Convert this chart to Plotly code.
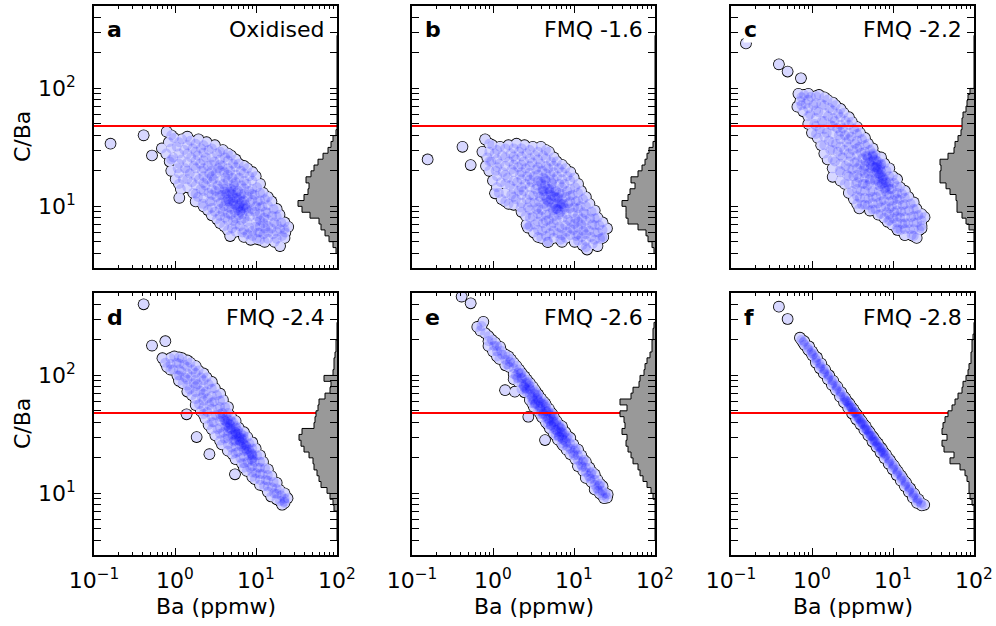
import plotly.graph_objects as go

panel_letters = ["a", "b", "c", "d", "e", "f"]
panel_titles = ["Oxidised", "FMQ -1.6", "FMQ -2.2", "FMQ -2.4", "FMQ -2.6", "FMQ -2.8"]
red_line_cba = 48

# (Ba ppmw, C/Ba)
pts_a = [(0.16,34),(0.41,40),(0.52,27),(0.69,31),(1.13,11.8),
(0.79,43),(0.84,35),(0.78,28),(0.86,24),
(0.97,38),(1.05,32),(0.95,26),(1.08,21),(1.02,17),
(1.22,37),(1.3,30),(1.2,25),(1.33,21),(1.25,17),(1.18,14),
(1.55,36),(1.65,31),(1.58,26),(1.7,22),(1.52,19),(1.62,16),(1.68,13),
(1.95,37),(2.1,31),(1.9,27),(2.05,23),(2.15,20),(1.98,17),(2.08,14),(1.92,12),(2.2,10.5),
(2.45,35),(2.6,30),(2.4,26),(2.55,22),(2.65,19),(2.5,17),(2.38,15),(2.6,13),(2.7,11),(2.55,9.3),
(3.1,33),(3.3,28),(3.05,24),(3.4,21),(3.2,19),(3.0,17),(3.35,15),(3.15,13.5),(3.25,12),(3.45,10.5),(3.1,9),(3.3,7.8),
(3.9,30),(4.15,26),(3.85,22),(4.05,19.5),(4.2,17.5),(3.95,15.5),(4.1,14),(3.8,12.5),(4.25,11),(4.0,10),(3.9,9),(4.15,8),(4.05,6.8),
(4.9,27),(5.2,23),(4.8,20),(5.1,17.5),(5.3,15.5),(4.95,14),(5.15,12.5),(4.85,11.5),(5.25,10.5),(5.0,9.5),(4.9,8.5),(5.2,7.5),(5.05,6.5),(4.8,5.6),
(6.1,23),(6.5,20),(6.2,17.5),(6.6,15),(6.0,13.5),(6.4,12),(6.7,11),(6.2,10),(6.5,9.2),(6.1,8.4),(6.6,7.6),(6.3,6.8),(6.8,6.0),
(7.8,21),(8.3,18),(7.6,15.5),(8.2,13.5),(7.9,12),(8.5,10.8),(7.7,9.8),(8.1,9),(8.4,8.2),(7.8,7.4),(8.2,6.6),(7.9,5.8),(8.6,5.2),
(9.9,18),(10.3,14.5),(9.6,12.5),(10.5,11),(10.0,10),(9.7,9),(10.4,8.2),(10.1,7.4),(9.8,6.7),(10.6,6),(10.2,5.3),
(12.2,13),(12.9,11.5),(12.0,10),(13.2,9),(12.6,8),(12.3,7.2),(13.0,6.5),(12.4,5.8),(12.8,5.0),
(15.5,11),(16.5,9.5),(15.8,8.3),(16.8,7.3),(15.4,6.5),(16.2,5.8),(17.0,5.0),
(19.5,8.5),(20.5,7.3),(19.8,6.4),(21,5.6),(19.8,4.6),
(25,6.7),(23,6.0),
(3.6,12.5),(4.5,11.5),(5.6,10.2),(4.4,14.5),(5.7,13),(6.9,9.6),(3.7,10.8),(4.6,9.8),(5.5,8.9),(7.1,11.2),
(4.3,12.8),(5.8,11.8),(6.8,8.6),(3.5,14),(7.4,10.3),(4.7,13.3),(5.4,14.8),(6.0,9.3),(7.2,7.9),(8.9,9.4),
(4.2,12),(5.2,11),(6.3,10.5),(5.0,12.8),(6.1,11.4),(7.6,9.5),(4.8,10.4),(5.9,9.7),(6.6,12.6),(4.1,13.3),
(5.5,11.7),(7.0,10.1),(6.4,9.0),(5.3,13.6),(4.6,11.0)]
# further points of the same cloud, grouped by Ba: (Ba, [C/Ba values])
cols_a = [(0.9,[40,31,25,20]),(1.12,[35,28,23,19,15.5]),(1.42,[39,33,28,23.5,20,17,14.5]),
(1.8,[34,29,24.5,21,18,15,12.8,11]),(2.25,[33,28.5,24.5,21,18,15.8,13.5,11.8,10]),
(2.85,[31,26,22.5,20,18,16,14,12.5,11,9.7,8.4]),(3.6,[29,25,22.5,20,16.5,9.5,8.3,7.2]),
(4.5,[28,24.5,21,18.5,16.5,8.7,7.6,6.3]),(5.6,[25,21.5,18.5,16,7.9,7.0,6.1]),
(7.1,[22,19,16.5,14.2,12.8,6.3,5.5]),(9.0,[19.5,16.5,14,12.7,11.3,6.2,5.6]),
(11.2,[15.5,13,11.2,9.8,8.6,7.6,6.8,6.0,5.2]),(14,[12,10.2,8.8,7.7,6.8,6.0,5.3]),
(18,[9.5,8.2,7.0,6.1,5.3]),(22.5,[7.3,6.4,5.4])]

pts_b = [(0.156,25),(0.42,32),(0.53,22.4),(1.06,12.9),(2.7,6.6),(4.7,5.0),
(0.8,37),(0.74,29),(0.85,26),(0.82,22),
(0.98,33),(1.05,28),(0.95,24),(1.08,20),(1.0,16.5),
(1.22,32),(1.3,27),(1.2,23),(1.32,19.5),(1.25,16),(1.18,13),(1.28,11.5),
(1.55,33),(1.65,28),(1.58,24),(1.7,20.5),(1.52,17.5),(1.62,15),(1.68,12.5),(1.56,10.5),
(1.95,34),(2.1,29),(1.9,25),(2.05,21.5),(2.15,18.5),(1.98,16),(2.08,13.5),(1.92,11.5),(2.2,9.8),
(2.45,33),(2.6,28),(2.4,24),(2.55,21),(2.65,18),(2.5,15.5),(2.38,13.5),(2.6,11.5),(2.7,9.8),(2.55,8.3),(2.6,7.0),
(3.1,32),(3.3,27),(3.05,23.5),(3.4,20.5),(3.2,18),(3.0,16),(3.35,14),(3.15,12.3),(3.25,10.8),(3.45,9.4),(3.1,8.2),(3.3,7.0),(3.2,6.0),
(3.9,32),(4.15,27),(3.85,23),(4.05,20),(4.2,17.5),(3.95,15.5),(4.1,13.5),(3.8,12),(4.25,10.5),(4.0,9.3),(3.9,8.2),(4.15,7.2),(4.05,6.2),(3.95,5.4),
(4.9,29),(5.2,24),(4.8,21),(5.1,18.5),(5.3,16),(4.95,14),(5.15,12.5),(4.85,11),(5.25,9.8),(5.0,8.7),(4.9,7.7),(5.2,6.8),(5.05,5.9),(4.8,5.0),
(6.1,24),(6.5,21),(6.2,18),(6.6,15.5),(6.0,13.5),(6.4,12),(6.7,10.6),(6.2,9.5),(6.5,8.5),(6.1,7.6),(6.6,6.7),(6.3,5.9),(6.8,5.2),
(7.8,21),(8.3,18),(7.6,15.5),(8.2,13.5),(7.9,12),(8.5,10.6),(7.7,9.5),(8.1,8.6),(8.4,7.7),(7.8,6.9),(8.2,6.1),(7.9,5.4),
(9.9,17.5),(10.3,14.5),(9.6,12.5),(10.5,11),(10.0,9.8),(9.7,8.8),(10.4,7.9),(10.1,7.1),(9.8,6.3),(10.6,5.6),(10.2,5.0),
(12.2,13.5),(12.9,11.5),(12.0,10),(13.2,8.9),(12.6,7.9),(12.3,7.0),(13.0,6.2),(12.4,5.5),(12.8,4.7),
(15.5,10.5),(16.5,9.0),(15.8,7.9),(16.8,7.0),(15.4,6.2),(16.2,5.5),(17.0,4.8),(14.5,4.3),
(19.5,8.0),(20.5,6.9),(19.8,6.0),(21,5.3),(19.5,4.6),
(25.5,6.5),(23,5.5),
(3.6,13),(4.5,12),(5.6,10.5),(4.4,15),(5.7,13.2),(6.9,10),(3.7,11),(4.6,10),(5.5,9.2),(7.1,11.5),
(4.3,13.5),(5.8,12),(6.8,8.9),(3.5,15),(7.4,10.5),(4.7,14),(5.4,15.5),(6.0,9.5),(7.2,8.0),(8.9,9.6),
(4.2,12.5),(5.2,11.5),(6.3,10.8),(5.0,13.3),(6.1,11.8),(7.6,9.8),(4.8,10.8),(5.9,10),(6.6,13),(4.1,14),
(5.5,12.2),(7.0,10.4),(6.4,9.3),(5.3,14.2),(4.6,11.4),(3.9,16.2),(4.4,17)]
cols_b = [(0.9,[34,29,24,20]),(1.12,[30,25,21.5,18,14.5]),(1.42,[31,26,22,18.5,15.5,13,11]),
(1.8,[31,26.5,22.5,19.5,16.5,14,12,10.3]),(2.25,[31,26.5,22.5,19.5,17,14.5,12.5,10.7,9.0]),
(2.85,[30,25.5,22,19.3,16.8,14.5,12.5,10.8,9.3,8.0,6.8]),(3.6,[29,25,21.5,18.5,16.5,9.8,8.6,7.4,6.3,5.5]),
(4.5,[30,25.5,22,19,16.5,8.5,7.5,6.5,5.6]),(5.6,[26,22,19.5,17,8.2,7.2,6.2,5.4]),
(7.1,[22.5,19.5,17,14.5,12.8,6.5,5.7,5.0]),(9.0,[19.5,16.5,14,12.3,11,7.4,6.5,5.7]),
(11.2,[15.5,13,11.2,9.6,8.4,7.4,6.6,5.8,5.1]),(14,[12,10,8.6,7.5,6.6,5.8,5.1,4.5]),
(18,[9.2,7.9,6.9,6.0,5.2]),(22.5,[7.3,6.3,5.4])]

pts_c = [(0.153,241),(0.39,160),(0.50,139),(0.73,122),
(0.68,90),(0.72,78),(0.66,70),
(0.8,88),(0.84,74),(0.78,64),
(0.97,85),(1.04,72),(0.95,60),(1.07,50),(1.0,42),
(1.22,88),(1.3,74),(1.2,63),(1.33,53),(1.25,45),(1.18,38),(1.3,33),
(1.55,80),(1.65,68),(1.58,58),(1.7,49),(1.52,42),(1.62,36),(1.68,30),(1.56,25),
(1.95,72),(2.1,61),(1.9,53),(2.05,46),(2.15,40),(1.98,34),(2.08,29),(1.92,24),(2.2,20),
(2.45,62),(2.6,53),(2.4,46),(2.55,40),(2.65,35),(2.5,30),(2.38,26),(2.6,22),(2.7,18.5),(2.55,15.5),
(3.1,52),(3.3,45),(3.05,39),(3.4,34),(3.2,30),(3.0,26.5),(3.35,23.5),(3.15,20.5),(3.25,18),(3.45,15.5),(3.1,13.5),(3.3,11.5),
(3.9,42),(4.15,37),(3.85,32),(4.05,28.5),(4.2,25.5),(3.95,22.5),(4.1,20),(3.8,17.5),(4.25,15.5),(4.0,13.5),(3.9,11.8),(4.15,10.3),
(4.9,34),(5.2,30),(4.8,26.5),(5.1,23.5),(5.3,21),(4.95,19),(5.15,17),(4.85,15),(5.25,13.2),(5.0,11.6),(4.9,10.2),(5.2,9.2),
(6.1,27),(6.5,24),(6.2,21.5),(6.6,19),(6.0,17),(6.4,15.2),(6.7,13.5),(6.2,12),(6.5,10.6),(6.1,9.4),(6.6,8.5),
(7.8,23),(8.3,20),(7.6,18),(8.2,16),(7.9,14.2),(8.5,12.6),(7.7,11.3),(8.1,10),(8.4,8.9),(7.8,8.0),
(9.9,18),(10.3,15.8),(9.6,14),(10.5,12.5),(10.0,11.2),(9.7,10),(10.4,8.9),(10.1,7.9),(9.8,7.0),
(12.2,14.5),(12.9,12.8),(12.0,11.4),(13.2,10.2),(12.6,9.0),(12.3,8.0),(13.0,7.1),(12.4,6.3),
(15.5,12),(16.5,10.5),(15.8,9.2),(16.8,8.1),(15.4,7.2),(16.2,6.4),(17.0,5.7),
(19.5,9.5),(20.5,8.4),(19.8,7.3),(21,6.3),(19.6,5.4),
(24.5,8.1),(22.5,6.8),
(1.8,17.8),(3.84,9.6),(8.6,7.4),(11.4,6.3),
(5.6,22),(6.8,18),(7.3,15.5),(5.8,25),(7.0,20.5),(6.0,16.5),(7.5,17.5),(5.4,19.5),(6.4,22.5),(7.9,16.8),
(5.7,28),(6.9,14.8),(4.6,24),(4.4,21),(8.8,15),(6.3,19.8),(7.2,23),(5.2,16),(8.1,13.5),(4.7,27),
(5.5,24),(6.5,20.5),(7.4,17),(6.0,21.5),(7.0,18.6),(5.3,22.5),(6.2,24.5),(7.7,15.8),(6.7,16.2),(5.9,19),
(4.9,25.5),(8.3,14.6),(6.9,21.6),(5.6,26.5),(7.2,19.4)]
cols_c = [(0.74,[84,72]),(0.9,[90,80,68,58,50]),(1.12,[86,75,65,56,48,41]),
(1.42,[84,72,62,53,45,39,33,28]),(1.8,[76,65,56,48,41,35,30,25,21]),
(2.25,[67,57,49,43,37,32,27,23,19.5,16.5]),(2.85,[57,49,42,37,32,28,24,21,18,15.5,13]),
(3.6,[47,41,36,31,27,24,21,18.5,16,14,12.2,10.5]),(4.5,[38,33,29,22,19,17.5,15.5,13.5,11.8,10.3]),
(5.6,[31,27,13.5,12,10.6,9.4]),(7.1,[26,22.5,12.5,11,9.8,8.6]),
(9.0,[21,18,16,14,12.4,11,9.6,8.5,7.6]),(11.2,[17,14.8,13,11.6,10.3,9.2,8.2,7.3,6.5]),
(14,[13.5,11.8,10.4,9.1,8.1,7.2,6.4,5.7]),(18,[10.8,9.5,8.3,7.3,6.4,5.6]),(22.5,[8.6,7.6,6.5])]

pts_d = [(0.41,401),(0.52,179),(0.76,195),(1.39,46.8),(1.85,30),(2.66,21.5),(5.5,14.5),
(0.7,140),(0.76,128),(0.8,118),
(0.98,145),(1.05,128),(0.95,112),(1.07,100),
(1.22,140),(1.3,123),(1.2,108),(1.33,96),(1.25,86),
(1.55,128),(1.65,112),(1.58,98),(1.7,86),(1.52,76),(1.62,68),
(1.95,110),(2.1,96),(1.9,84),(2.05,74),(2.15,65),(1.98,57),(2.08,50),
(2.45,96),(2.6,84),(2.4,73),(2.55,64),(2.65,56),(2.5,49),(2.38,43),(2.6,38),
(3.1,78),(3.3,68),(3.05,60),(3.4,52),(3.2,46),(3.0,40),(3.35,35),(3.15,31),
(3.9,62),(4.15,54),(3.85,48),(4.05,42),(4.2,37),(3.95,33),(4.1,29),(3.8,26),
(4.9,45),(5.2,40),(4.8,35),(5.1,31),(5.3,27.5),(4.95,24.5),(5.15,21.5),
(6.1,36),(6.5,32),(6.2,28),(6.6,25),(6.0,22.5),(6.4,20),(6.7,18),
(7.8,30),(8.3,26.5),(7.6,23.5),(8.2,21),(7.9,18.5),(8.5,16.5),(7.7,15.5),
(9.9,24),(10.3,21),(9.6,18.5),(10.5,16.5),(10.0,14.8),(9.7,13.2),
(12.2,18.5),(12.9,16.3),(12.0,14.5),(13.2,13),(12.6,11.5),
(15.5,14),(16.5,12.5),(15.8,11.2),(16.8,10),(15.4,9.4),
(19.5,10.7),(20.5,9.6),(19.8,8.6),(21,8.0),
(24.5,9.1),(22.5,8.5),
(4.4,40),(5.6,33),(6.9,27),(4.6,36),(5.8,30),(7.2,24),(3.7,44),(4.8,38),(6.0,34),(7.5,25.5),
(8.7,22),(5.4,28.5),(6.6,29.5),(4.3,45),(7.0,31),(8.8,19.5),(5.7,37),(4.5,31),(6.3,26),(9.2,20),
(4.2,41),(5.0,35),(6.2,30),(7.6,25),(4.7,39),(5.5,33.5),(6.8,28.5),(8.2,23.5),(3.9,44.5),(4.4,37.5),
(5.2,31.5),(6.4,27.5),(7.8,22.5),(9.0,21),(5.9,32),(4.9,41.5)]
cols_d = [(0.88,[140,125,112]),(1.12,[142,126,112,100,90]),(1.42,[134,118,104,92,82,73]),
(1.8,[120,105,92,81,72,63,56]),(2.25,[104,91,80,70,61,54,47]),(2.85,[88,77,67,59,52,45,40,35]),
(3.6,[70,61,54,47,41,36,32,28]),(4.5,[54,48,42,34,29,26,23]),(5.6,[41,36,31.5,28,25,22,19.5]),
(7.1,[33,29,26,23,20.5,18,16.5]),(9.0,[27,24,21.5,19,17,15,13.8]),(11.2,[21,18.5,16.5,14.6,13,11.8]),
(14,[16,14.3,12.8,11.4,10.3]),(18,[12.3,11,9.9,8.9]),(22.5,[10,9,8.3])]

pts_e = [(0.41,466),(0.53,409),(1.41,75),(1.86,72.8),(2.73,44.6),(4.39,28.3),
(0.64,258),(0.7,240),(0.76,285),(0.8,228),(0.72,262),
(0.97,200),(1.03,178),(1.0,160),(1.06,190),
(1.22,175),(1.3,150),(1.26,162),(1.2,138),
(1.55,145),(1.62,130),(1.58,118),(1.66,137),(1.5,124),
(1.95,120),(2.05,106),(2.0,95),(2.1,112),(1.92,100),(2.06,88),
(2.45,98),(2.55,86),(2.5,78),(2.62,92),(2.4,82),(2.6,72),
(3.1,80),(3.25,70),(3.15,62),(3.3,75),(3.05,66),(3.35,58),(3.2,54),
(3.9,64),(4.1,57),(4.0,50),(4.2,60),(3.85,54),(4.15,47),(4.05,44),
(4.9,52),(5.1,46),(5.0,41),(5.25,48),(4.85,43),(5.2,38),(5.05,35.5),
(6.1,41),(6.4,37),(6.3,33),(6.6,38),(6.05,34.5),(6.55,30.5),(6.35,28.5),
(7.8,33),(8.1,29.5),(8.0,27),(8.4,30.5),(7.7,28),(8.3,25),(8.1,23.5),
(9.8,26),(10.2,23),(10.0,21),(10.5,24),(9.7,22),(10.4,19.5),
(12.3,21),(12.8,18.5),(12.6,16.8),(13.2,19.2),(12.2,17.5),(13.0,15.5),
(15.5,16.5),(16.2,14.8),(15.9,13.3),(16.6,15.2),(15.3,14),(16.4,12.5),
(19.5,13),(20.4,11.6),(20,10.5),(21,12),(19.3,11),(20.8,10),
(24.5,10),(25.5,9.2),(23.5,9.1),(26,9.8),
(2.3,95),(2.8,82),(3.6,68),(4.5,54),(5.6,44),(7.1,35),(2.2,104),(2.9,75),(3.7,60),(4.6,49),
(5.7,39),(7.2,31),(3.4,72),(4.4,58),(5.4,47),(6.8,36),(2.7,88),(3.5,64),(4.8,50),(6.0,40),
(7.5,32),(3.9,58.5),(5.3,42.5),(6.7,33.5),
(2.4,80),(2.45,72),(3.0,64),(3.05,58),(3.8,52),(3.85,47),(4.7,42.5),(4.75,38.5),(5.9,34.5),(5.95,31),
(7.3,28.5),(7.35,25.5),(2.6,76),(3.3,57),(4.2,47.5),(5.2,37.5),(6.5,30)]
cols_e = [(0.88,[215,195,178]),(1.12,[178,160,145]),(1.42,[150,136,122]),(1.8,[128,115,103,93]),
(2.25,[105,94,85,76]),(2.85,[86,77,69,62]),(3.6,[69,62,56,50]),(4.5,[56,50,45,40]),
(5.6,[45,40.5,36.5,32.5]),(7.1,[37,33,29.5,26.5]),(9.0,[29.5,26.5,24,21.5]),(11.2,[23.5,21,19,17]),
(14,[18.5,16.5,15,13.5]),(18,[14.5,13,11.8,10.8]),(22.5,[11.5,10.5,9.6])]

pts_f = [(0.39,383),(0.50,301),
(0.71,209),(0.74,200),
(0.78,190),(0.81,182),(0.8,195),
(0.88,172),(0.9,165),(0.92,176),
(0.98,155),(1.01,148),(1.04,152),(1.0,160),
(1.1,140),(1.13,134),(1.15,142),(1.12,128),
(1.24,125),(1.27,119),(1.3,126),(1.25,115),
(1.39,113),(1.42,107),(1.45,112),(1.4,104),
(1.56,102),(1.6,97),(1.63,100),(1.57,93),
(1.75,91),(1.8,86),(1.83,90),(1.76,83),
(1.97,82),(2.02,77),(2.06,80),(1.98,75),
(2.2,73),(2.26,69),(2.3,72),(2.22,66),
(2.47,66),(2.53,62),(2.58,64),(2.49,59),
(2.78,59),(2.85,55),(2.9,57.5),(2.8,53),
(3.1,53),(3.18,49.5),(3.25,51.5),(3.13,47.5),
(3.5,47.5),(3.57,44.5),(3.65,46),(3.52,42.5),
(3.92,42.5),(4.0,40),(4.1,41),(3.95,38.5),
(4.4,38),(4.5,35.5),(4.6,37),(4.43,34.5),
(4.95,34),(5.05,32),(5.15,33),(4.97,31),
(5.55,30.5),(5.65,28.5),(5.78,29.5),(5.58,27.5),
(6.2,27.5),(6.35,25.5),(6.5,26.5),(6.25,24.8),
(7.0,24.5),(7.1,23),(7.3,23.8),(7.02,22.2),
(7.8,22),(8.0,20.7),(8.2,21.3),(7.85,19.9),
(8.8,19.7),(8.95,18.5),(9.2,19),(8.85,17.8),
(9.85,17.7),(10.05,16.6),(10.3,17.1),(9.9,16),
(11.0,15.9),(11.3,14.9),(11.5,15.3),(11.1,14.3),
(12.4,14.2),(12.7,13.3),(12.9,13.7),(12.5,12.8),
(13.9,12.7),(14.2,11.9),(14.5,12.3),(14.0,11.5),
(15.6,11.3),(15.9,10.7),(16.3,11.0),(15.7,10.3),
(17.5,10.1),(17.9,9.6),(18.3,9.9),(17.6,9.2),
(19.6,9.1),(20.1,8.6),(20.6,8.9),(19.8,8.3),
(22.0,8.3),(22.6,7.9),(24.3,8.0),
(2.65,61),(3.0,55),(3.35,49),(3.75,44),(4.2,39.5),(4.7,35),(5.3,31),(5.9,28),(6.7,25),(7.5,22.5),
(2.7,60),(3.05,53.5),(3.4,48.5),(3.8,43),(4.25,38.5),(4.75,34.5),(5.35,30.5),(6.0,27.2),(6.8,24.3),(7.6,21.8)]
cols_f = []

# histogram bin edges (C/Ba) and counts per bin for each panel
hist_edges = [3.98,4.47,5.01,5.62,6.31,7.08,7.94,8.91,10.0,11.2,12.6,14.1,15.8,17.8,20.0,22.4,25.1,28.2,31.6,
              35.5,39.8,44.7,50.1,56.2,63.1,70.8,79.4,89.1,100,112,126,141,158,178,200,224,251,282]
hist_a = [1,4,8,12,16,18,27,35,39,33,29,28,31,26,23,19,14,9,6,4,1,0,0,0,0,0,0,0,0,0,0,0,0,0,0,0,0]
hist_b = [1,3,7,9,17,27,29,29,33,27,25,20,24,17,13,10,8,6,2,0,0,0,0,0,0,0,0,0,0,0,0,0,0,0,0,0,0]
hist_c = [0,0,0,0,5,8,12,17,17,18,24,28,34,34,33,34,26,20,19,16,13,12,12,11,8,7,6,4,0,0,0,0,0,0,0,0,0]
hist_d = [0,0,0,0,0,3,4,7,10,16,18,20,23,24,28,33,36,38,35,23,22,21,19,18,12,7,6,13,4,3,3,2,1,1,0,0,0]
hist_e = [0,0,0,0,0,0,0,2,4,8,12,15,17,22,24,27,29,28,33,30,31,35,28,35,24,22,16,15,11,10,8,5,3,3,2,2,1]
hist_f = [0,0,0,0,0,0,2,4,5,5,7,9,14,24,20,30,32,27,32,31,29,26,22,19,16,12,11,8,6,5,3,3,2,2,1,0,0]

x_tickvals = [0.1, 1, 10, 100]
x_ticktext = ["10<sup>−1</sup>", "10<sup>0</sup>", "10<sup>1</sup>", "10<sup>2</sup>"]
x_minor = [0.2,0.3,0.4,0.5,0.6,0.7,0.8,0.9,2,3,4,5,6,7,8,9,20,30,40,50,60,70,80,90]
y_tickvals = [10, 100]
y_ticktext = ["10<sup>1</sup>", "10<sup>2</sup>"]
y_minor = [4,5,6,7,8,9,20,30,40,50,60,70,80,90,200,300,400]

all_pts = [pts_a, pts_b, pts_c, pts_d, pts_e, pts_f]
all_cols = [cols_a, cols_b, cols_c, cols_d, cols_e, cols_f]
all_hist = [hist_a, hist_b, hist_c, hist_d, hist_e, hist_f]

W, H = 996, 626
cols = [(94, 337), (412, 655), (731, 974)]
rows = [(6, 268), (293, 555)]
FONT = "DejaVu Sans"
FS = 22

fig = go.Figure()
layout = {}
annotations = []
for i in range(6):
    r, c = divmod(i, 3)
    n = i + 1
    xa = "x" if n == 1 else f"x{n}"
    ya = "y" if n == 1 else f"y{n}"
    hx = f"x{n + 6}"
    ba = [p[0] for p in all_pts[i]]
    cb = [p[1] for p in all_pts[i]]
    for b, vals in all_cols[i]:
        for v in vals:
            ba.append(b)
            cb.append(v)
    # outline layer (slightly larger black discs), white body, translucent blue
    fig.add_trace(go.Scatter(x=ba, y=cb, mode="markers", xaxis=xa, yaxis=ya, showlegend=False, hoverinfo="skip",
                             marker=dict(size=11.7, color="black", line=dict(width=0))))
    fig.add_trace(go.Scatter(x=ba, y=cb, mode="markers", xaxis=xa, yaxis=ya, showlegend=False, hoverinfo="skip",
                             marker=dict(size=10, color="white", line=dict(width=0))))
    fig.add_trace(go.Scatter(x=ba, y=cb, mode="markers", xaxis=xa, yaxis=ya, showlegend=False, hoverinfo="skip",
                             marker=dict(size=10, color="rgba(0,0,255,0.155)", line=dict(width=0))))
    fig.add_trace(go.Scatter(x=[0.1, 100], y=[red_line_cba, red_line_cba], mode="lines", xaxis=xa, yaxis=ya,
                             showlegend=False, hoverinfo="skip", line=dict(color="#ff0000", width=2)))
    hist = all_hist[i]
    hxs = [0]
    hys = [hist_edges[0]]
    for k, cnt in enumerate(hist):
        hxs += [cnt, cnt]
        hys += [hist_edges[k], hist_edges[k + 1]]
    hxs.append(0)
    hys.append(hist_edges[-1])
    fig.add_trace(go.Scatter(x=hxs, y=hys, mode="lines", fill="toself", fillcolor="#999999", xaxis=hx, yaxis=ya,
                             showlegend=False, hoverinfo="skip", line=dict(color="black", width=1)))

    x0, x1 = cols[c]
    y0, y1 = rows[r]
    xdom = [x0 / W, x1 / W]
    ydom = [1 - y1 / H, 1 - y0 / H]
    common = dict(showgrid=False, zeroline=False, showline=True, linecolor="black", linewidth=1.6,
                  mirror="allticks", ticks="inside", ticklen=7, tickwidth=1, tickcolor="black", automargin=False,
                  tickfont=dict(family=FONT, size=FS, color="black"))
    xkey = "xaxis" if n == 1 else f"xaxis{n}"
    ykey = "yaxis" if n == 1 else f"yaxis{n}"
    layout[xkey] = dict(type="log", range=[-1, 2], domain=xdom, anchor=ya,
                        tickvals=x_tickvals, ticktext=x_ticktext, showticklabels=(r == 1),
                        ticklabelstandoff=5,
                        minor=dict(tickvals=x_minor, ticks="inside", ticklen=3.5, tickcolor="black", showgrid=False),
                        **common)
    layout[ykey] = dict(type="log", range=[0.4771, 2.699], domain=ydom, anchor=xa,
                        tickvals=y_tickvals, ticktext=y_ticktext, showticklabels=(c == 0),
                        ticklabelstandoff=12,
                        minor=dict(tickvals=y_minor, ticks="inside", ticklen=3.5, tickcolor="black", showgrid=False),
                        **common)
    layout[f"xaxis{n + 6}"] = dict(type="linear", range=[243, 0], domain=xdom, anchor=ya, overlaying=xa,
                                   visible=False, showgrid=False, zeroline=False, automargin=False)

    annotations.append(dict(x=(x0 + 12) / W, y=1 - (y0 + 24) / H, xref="paper", yref="paper",
                            text=f"<b>{panel_letters[i]}</b>", showarrow=False, xanchor="left", yanchor="middle",
                            bgcolor="white", borderpad=0,
                            font=dict(family=FONT, size=FS, color="black")))
    annotations.append(dict(x=(x1 - 10) / W, y=1 - (y0 + 24) / H, xref="paper", yref="paper",
                            text=panel_titles[i], showarrow=False, xanchor="right", yanchor="middle",
                            font=dict(family=FONT, size=FS, color="black")))

for c in range(3):
    x0, x1 = cols[c]
    annotations.append(dict(x=(x0 + x1) / 2 / W, y=1 - 606 / H, xref="paper", yref="paper", text="Ba (ppmw)",
                            showarrow=False, xanchor="center", yanchor="middle",
                            font=dict(family=FONT, size=FS, color="black")))
for r in range(2):
    y0, y1 = rows[r]
    annotations.append(dict(x=22 / W, y=1 - (y0 + y1) / 2 / H, xref="paper", yref="paper", text="C/Ba",
                            showarrow=False, xanchor="center", yanchor="middle", textangle=-90,
                            font=dict(family=FONT, size=FS, color="black")))

fig.update_layout(width=W, height=H, margin=dict(l=0, r=0, t=0, b=0, autoexpand=False), paper_bgcolor="white",
                  plot_bgcolor="white", showlegend=False, annotations=annotations,
                  font=dict(family=FONT, size=FS, color="black"), **layout)
fig.write_html("out.html")
